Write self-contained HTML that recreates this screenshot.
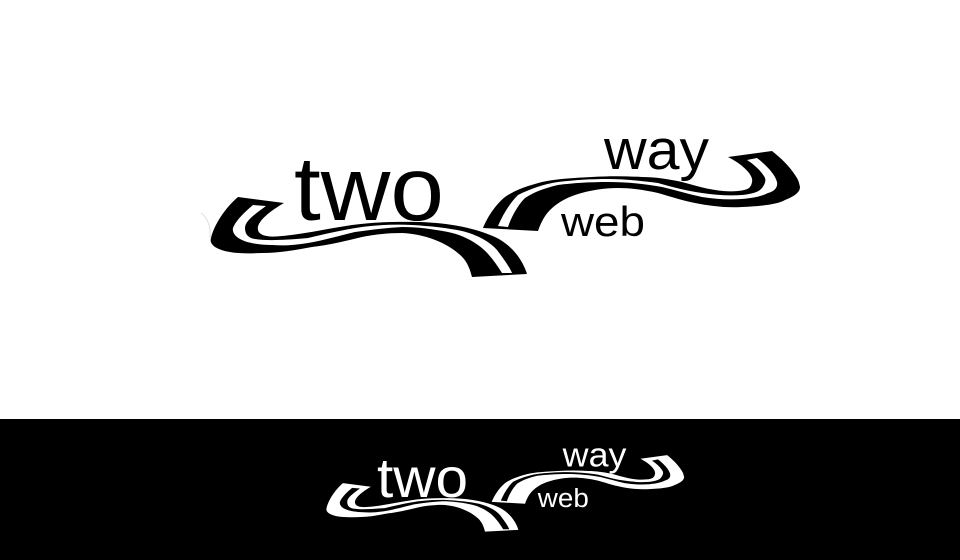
<!DOCTYPE html>
<html><head><meta charset="utf-8"><style>
html,body{margin:0;padding:0;background:#fff;width:960px;height:560px;overflow:hidden}
svg{display:block}
text{font-family:"Liberation Sans",sans-serif}
</style></head><body>
<svg width="960" height="560" viewBox="0 0 960 560" xmlns="http://www.w3.org/2000/svg">
<rect width="960" height="560" fill="#fff"/>
<rect y="419" width="960" height="141" fill="#000"/>
<path d="M201 213C207 217 211 226 210 238" fill="none" stroke="#ddd" stroke-width="1"/>
<g fill="#000">
<path d="M238 197L284 203C270 211 256 222 258 230C259 235 266 237 276 236.500C300 235 325 229 352 225C375 222 395 221.500 420 222C450 223 475 228 495 237C510 244 522 258 527 274L472 277C469 265 465 259 459 254C447 243 425 234 402 233C385 233 372 235 362 237C345 241 330 245 312 247C295 250 280 253 262 253C240 254 225 253 215 247C211 244 210 241 211 238C214 225 225 208 238 197Z"/>
<path d="M772 151L728 157C742 164 754 175 752 182C751 188 748 190 738 191C720 193 700 187 682 182C668 179 655 177 642 177C625 176 608 176 592 177C572 178 555 179 542 182C527 186 515 190 505 197C495 205 487 218 483 228L538 231C541 222 545 215 550 210C557 203 566 198 575 195C590 190 605 188 618 188C632 188 645 190 658 193C672 197 684 201 695 203C710 206 726 208 742 207C760 206 776 205 785 200C795 196 800 192 800 187C799 182 798 179 795 175C790 167 781 158 772 151Z"/>
</g>
<g fill="#fff">
<path d="M253 205L266 206C255 214 245 221 245 228C245 234 248 238 255 239C268 241 285 240 308 238C325 234 342 230 362 227C378 225 395 224 412 225C430 226 448 228 462 231C478 235 490 242 497 250C503 258 509 266 512 273L502 273C495 262 488 252 478 245C468 238 458 234 448 232C432 229 418 227 402 227C385 228 370 230 355 232C338 236 325 240 308 243C295 245 285 246 272 245C260 245 248 243 242 240C235 237 232 232 233 228C236 220 246 211 253 205Z"/>
<path d="M747 160L757 158C766 165 775 174 777 182C778 187 775 191 768 193C760 197 752 198 742 199C728 200 715 199 702 197C688 194 675 190 662 187C645 184 628 182 608 182C590 182 573 183 558 185C545 188 534 192 525 198C517 206 511 218 508 227L498 226C503 214 510 203 518 195C530 189 544 184 558 182C575 180 590 179 608 179C625 179 642 181 658 183C672 187 687 191 702 193C715 195 730 196 742 195C752 194 759 192 762 188C765 184 766 181 765 178C762 172 755 165 747 160Z"/>
</g>
<text x="294" y="220" font-size="91" textLength="150" lengthAdjust="spacingAndGlyphs" fill="#000">two</text>
<text x="604" y="169" font-size="57" textLength="105" lengthAdjust="spacingAndGlyphs" fill="#000">way</text>
<text x="561" y="236" font-size="42" textLength="84" lengthAdjust="spacingAndGlyphs" fill="#000">web</text>

<g transform="translate(198.500 363.500) scale(.607)">
<g fill="#fff">
<path d="M238 197L284 203C270 211 256 222 258 230C259 235 266 237 276 236.500C300 235 325 229 352 225C375 222 395 221.500 420 222C450 223 475 228 495 237C510 244 522 258 527 274L472 277C469 265 465 259 459 254C447 243 425 234 402 233C385 233 372 235 362 237C345 241 330 245 312 247C295 250 280 253 262 253C240 254 225 253 215 247C211 244 210 241 211 238C214 225 225 208 238 197Z"/>
<path d="M772 151L728 157C742 164 754 175 752 182C751 188 748 190 738 191C720 193 700 187 682 182C668 179 655 177 642 177C625 176 608 176 592 177C572 178 555 179 542 182C527 186 515 190 505 197C495 205 487 218 483 228L538 231C541 222 545 215 550 210C557 203 566 198 575 195C590 190 605 188 618 188C632 188 645 190 658 193C672 197 684 201 695 203C710 206 726 208 742 207C760 206 776 205 785 200C795 196 800 192 800 187C799 182 798 179 795 175C790 167 781 158 772 151Z"/>
</g>
<g fill="#000">
<path d="M253 205L266 206C255 214 245 221 245 228C245 234 248 238 255 239C268 241 285 240 308 238C325 234 342 230 362 227C378 225 395 224 412 225C430 226 448 228 462 231C478 235 490 242 497 250C503 258 509 266 512 273L502 273C495 262 488 252 478 245C468 238 458 234 448 232C432 229 418 227 402 227C385 228 370 230 355 232C338 236 325 240 308 243C295 245 285 246 272 245C260 245 248 243 242 240C235 237 232 232 233 228C236 220 246 211 253 205Z"/>
<path d="M747 160L757 158C766 165 775 174 777 182C778 187 775 191 768 193C760 197 752 198 742 199C728 200 715 199 702 197C688 194 675 190 662 187C645 184 628 182 608 182C590 182 573 183 558 185C545 188 534 192 525 198C517 206 511 218 508 227L498 226C503 214 510 203 518 195C530 189 544 184 558 182C575 180 590 179 608 179C625 179 642 181 658 183C672 187 687 191 702 193C715 195 730 196 742 195C752 194 759 192 762 188C765 184 766 181 765 178C762 172 755 165 747 160Z"/>
</g>
<text x="294" y="220" font-size="91" textLength="150" lengthAdjust="spacingAndGlyphs" fill="#fff">two</text>
<text x="600" y="170" font-size="57" textLength="105" lengthAdjust="spacingAndGlyphs" fill="#fff">way</text>
<text x="559" y="236" font-size="42" textLength="84" lengthAdjust="spacingAndGlyphs" fill="#fff">web</text>
</g>
</svg>
</body></html>
